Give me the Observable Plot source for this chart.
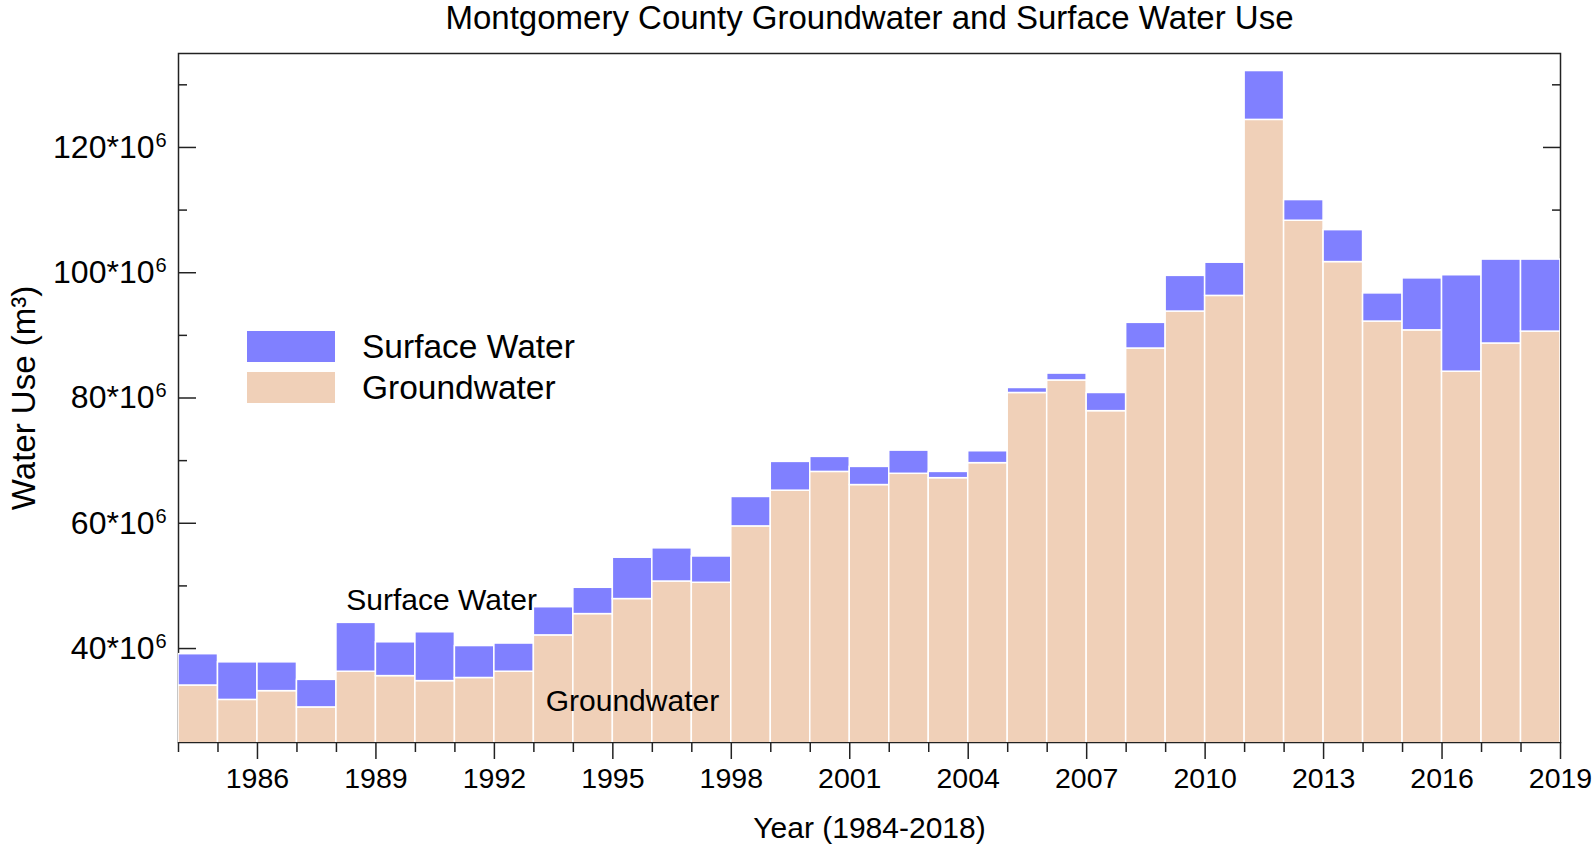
<!DOCTYPE html>
<html>
<head>
<meta charset="utf-8">
<script src="https://cdn.jsdelivr.net/npm/d3@7"></script>
<script src="https://cdn.jsdelivr.net/npm/@observablehq/plot@0.6"></script>
<style>
  html, body { margin: 0; padding: 0; background: #fff; }
  #wrap { position: relative; width: 1594px; height: 848px; font-family: "Liberation Sans", Arial, sans-serif; }
  #legend { position: absolute; left: 247px; top: 331px; }
  .lg-row { display: flex; align-items: center; height: 31px; margin-bottom: 10px; }
  .lg-sw { width: 88px; height: 31px; margin-right: 27px; }
  .lg-tx { font-size: 33.5px; line-height: 31px; color: #000; white-space: nowrap; }
</style>
</head>
<body>
<div id="wrap"><div id="legend"></div></div>
<script>
// ---- data (values in millions of m³) ----
const years = [1984,1985,1986,1987,1988,1989,1990,1991,1992,1993,1994,1995,1996,1997,1998,1999,2000,2001,2002,2003,2004,2005,2006,2007,2008,2009,2010,2011,2012,2013,2014,2015,2016,2017,2018];
const groundwater = [34.1,31.8,33.2,30.6,36.3,35.6,34.8,35.3,36.3,42.1,45.5,47.9,50.7,50.5,59.5,65.2,68.2,66.1,67.9,67.2,69.6,80.8,82.8,77.9,87.9,93.8,96.3,124.4,108.3,101.7,92.2,90.8,84.2,88.7,90.6];
const surfaceWater = [5.0,6.0,4.6,4.4,7.8,5.4,7.8,5.1,4.5,4.5,4.2,6.6,5.3,4.2,4.7,4.6,2.4,2.9,3.7,1.0,1.9,0.8,1.1,2.9,4.1,5.7,5.3,7.8,3.3,5.1,4.5,8.3,15.4,13.4,11.5];

const seriesNames = ["Surface Water", "Groundwater"];
const seriesColors = ["#8080FF", "#F0D0B8"];

const yMajorTicks = [40, 60, 80, 100, 120];
const yMinorTicks = [30, 50, 70, 90, 110, 130];
const xLabelTicks = [1986, 1989, 1992, 1995, 1998, 2001, 2004, 2007, 2010, 2013, 2016, 2019];
const xMinorTicks = [1984,1985,1987,1988,1990,1991,1993,1994,1996,1997,1999,2000,2002,2003,2005,2006,2008,2009,2011,2012,2014,2015,2017,2018];

const annotationLabels = ["Surface Water", "Groundwater"];
const annotationYears = [1988.25, 1993.3];
const annotationValues = [47.7, 31.6];

const titleText = "Montgomery County Groundwater and Surface Water Use";
const xTitle = "Year (1984-2018)";
const yTitle = "Water Use (m³)";

// ---- build table ----
const rows = years.flatMap((yr, i) => [
  {year: yr, next: yr + 1, series: "Groundwater", y1: 0, y2: groundwater[i]},
  {year: yr, next: yr + 1, series: "Surface Water", y1: groundwater[i], y2: groundwater[i] + surfaceWater[i]}
]);
const annotations = annotationLabels.map((t, i) => ({label: t, year: annotationYears[i], value: annotationValues[i]}));

const axisColor = "#222";

const chart = Plot.plot({
  width: 1594,
  height: 848,
  marginLeft: 178,
  marginRight: 34,
  marginTop: 53,
  marginBottom: 106,
  style: {fontFamily: "'Liberation Sans', Arial, sans-serif", color: "#000", background: "#fff", overflow: "visible"},
  x: {domain: [1984, 2019]},
  y: {domain: [25, 135]},
  color: {domain: seriesNames, range: seriesColors},
  marks: [
    Plot.frame({stroke: axisColor, strokeWidth: 1.5}),
    // inward y ticks (left & right) — drawn under the bars
    Plot.axisY(yMajorTicks, {anchor: "left", tickSize: -18, fill: "none", label: null, stroke: axisColor, strokeWidth: 1.5}),
    Plot.axisY(yMinorTicks, {anchor: "left", tickSize: -9, fill: "none", label: null, stroke: axisColor, strokeWidth: 1.5}),
    Plot.axisY(yMajorTicks, {anchor: "right", tickSize: -18, fill: "none", label: null, stroke: axisColor, strokeWidth: 1.5}),
    Plot.axisY(yMinorTicks, {anchor: "right", tickSize: -9, fill: "none", label: null, stroke: axisColor, strokeWidth: 1.5}),
    // bars
    Plot.rect(rows, {x1: "year", x2: "next", y1: "y1", y2: "y2", fill: "series", stroke: "white", strokeWidth: 1.5, clip: true}),
    // y labels with superscript exponent
    Plot.axisY(yMajorTicks, {anchor: "left", tickSize: 0, tickPadding: 24, tickFormat: d => `${d}*10`, fontSize: 32, label: null, fill: "#000"}),
    Plot.axisY(yMajorTicks, {anchor: "left", tickSize: 0, tickPadding: 12, tickFormat: () => "6", fontSize: 20, dy: -7, label: null, fill: "#000"}),
    // x ticks
    Plot.axisX(xLabelTicks, {anchor: "bottom", tickSize: 17, fill: "none", label: null, stroke: axisColor, strokeWidth: 1.5}),
    Plot.axisX(xMinorTicks, {anchor: "bottom", tickSize: 10, fill: "none", label: null, stroke: axisColor, strokeWidth: 1.5}),
    Plot.axisX(xLabelTicks, {anchor: "bottom", tickSize: 0, tickPadding: 25, tickFormat: d => `${d}`, fontSize: 28.5, label: null, fill: "#000"}),
    // in-plot annotations
    Plot.text(annotations, {x: "year", y: "value", text: "label", textAnchor: "start", fontSize: 30, fill: "#000"}),
    // titles
    Plot.text([titleText], {frameAnchor: "top", text: d => d, lineAnchor: "middle", textAnchor: "middle", dy: -35, fontSize: 33, fill: "#000"}),
    Plot.text([xTitle], {frameAnchor: "bottom", text: d => d, lineAnchor: "middle", textAnchor: "middle", dy: 86, fontSize: 30, fill: "#000"}),
    Plot.text([yTitle], {frameAnchor: "left", text: d => d, lineAnchor: "middle", textAnchor: "middle", rotate: -90, dx: -154, fontSize: 33, fill: "#000"})
  ]
});

const wrap = document.getElementById("wrap");
wrap.insertBefore(chart, wrap.firstChild);

// legend (HTML overlay inside the plot area)
const legend = d3.select("#legend");
seriesNames.forEach((name, i) => {
  const row = legend.append("div").attr("class", "lg-row");
  row.append("div").attr("class", "lg-sw").style("background", seriesColors[i]);
  row.append("div").attr("class", "lg-tx").text(name);
});
</script>
</body>
</html>
